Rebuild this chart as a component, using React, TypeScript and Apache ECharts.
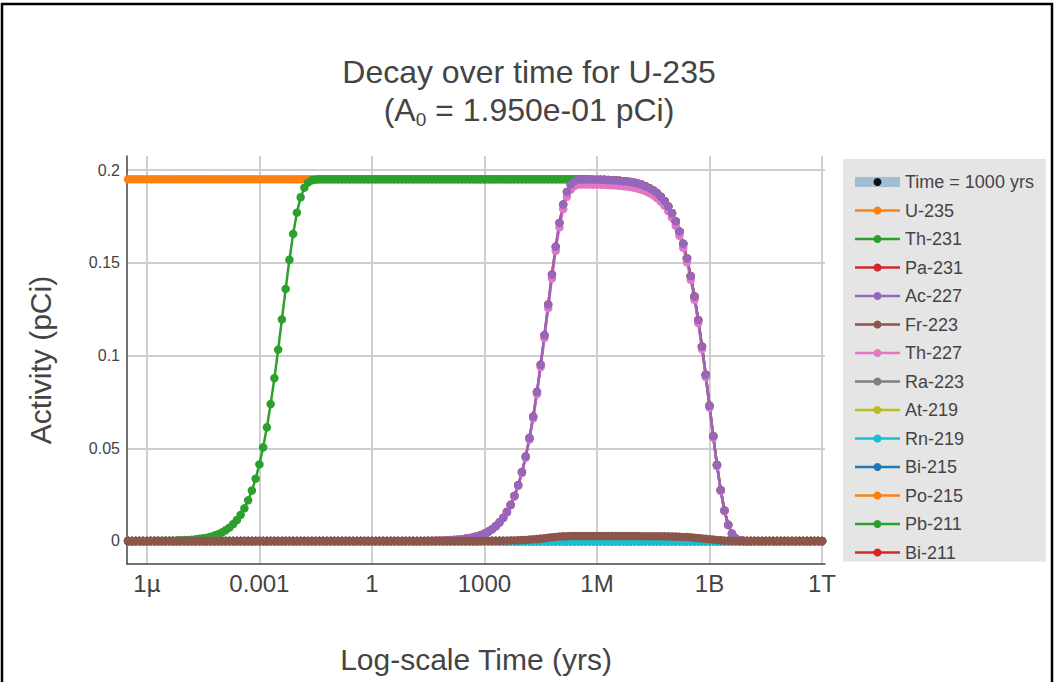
import { useEffect, useRef } from "react";
import * as echarts from "echarts";

// log10(time in years) of every computed point
const logTimeExps = [
  -6.5, -6.4, -6.3, -6.2, -6.1, -6, -5.9, -5.8, -5.7, -5.6,
  -5.5, -5.4, -5.3, -5.2, -5.1, -5, -4.9, -4.8, -4.7, -4.6,
  -4.5, -4.4, -4.3, -4.2, -4.1, -4, -3.9, -3.8, -3.7, -3.6,
  -3.5, -3.4, -3.3, -3.2, -3.1, -3, -2.9, -2.8, -2.7, -2.6,
  -2.5, -2.4, -2.3, -2.2, -2.1, -2, -1.9, -1.8, -1.7, -1.6,
  -1.5, -1.4, -1.3, -1.2, -1.1, -1, -0.9, -0.8, -0.7, -0.6,
  -0.5, -0.4, -0.3, -0.2, -0.1, 0, 0.1, 0.2, 0.3, 0.4,
  0.5, 0.6, 0.7, 0.8, 0.9, 1, 1.1, 1.2, 1.3, 1.4,
  1.5, 1.6, 1.7, 1.8, 1.9, 2, 2.1, 2.2, 2.3, 2.4,
  2.5, 2.6, 2.7, 2.8, 2.9, 3, 3.1, 3.2, 3.3, 3.4,
  3.5, 3.6, 3.7, 3.8, 3.9, 4, 4.1, 4.2, 4.3, 4.4,
  4.5, 4.6, 4.7, 4.8, 4.9, 5, 5.1, 5.2, 5.3, 5.4,
  5.5, 5.6, 5.7, 5.8, 5.9, 6, 6.1, 6.2, 6.3, 6.4,
  6.5, 6.6, 6.7, 6.8, 6.9, 7, 7.1, 7.2, 7.3, 7.4,
  7.5, 7.6, 7.7, 7.8, 7.9, 8, 8.1, 8.2, 8.3, 8.4,
  8.5, 8.6, 8.7, 8.8, 8.9, 9, 9.1, 9.2, 9.3, 9.4,
  9.5, 9.6, 9.7, 9.8, 9.9, 10, 10.1, 10.2, 10.3, 10.4,
  10.5, 10.6, 10.7, 10.8, 10.9, 11, 11.1, 11.2, 11.3, 11.4,
  11.5, 11.6, 11.7, 11.8, 11.9, 12,
];

const xTickExps = [-6, -3, 0, 3, 6, 9, 12];
const xTickLabels = ["1µ", "0.001", "1", "1000", "1M", "1B", "1T"];
const yTickValues = [0, 0.05, 0.1, 0.15, 0.2];
const yTickLabels = ["0", "0.05", "0.1", "0.15", "0.2"];

const u235 = [
  0.195, 0.195, 0.195, 0.195, 0.195, 0.195, 0.195, 0.195, 0.195, 0.195,
  0.195, 0.195, 0.195, 0.195, 0.195, 0.195, 0.195, 0.195, 0.195, 0.195,
  0.195, 0.195, 0.195, 0.195, 0.195, 0.195, 0.195, 0.195, 0.195, 0.195,
  0.195, 0.195, 0.195, 0.195, 0.195, 0.195, 0.195, 0.195, 0.195, 0.195,
  0.195, 0.195, 0.195, 0.195, 0.195, 0.195, 0.195, 0.195, 0.195, 0.195,
  0.195, 0.195, 0.195, 0.195, 0.195, 0.195, 0.195, 0.195, 0.195, 0.195,
  0.195, 0.195, 0.195, 0.195, 0.195, 0.195, 0.195, 0.195, 0.195, 0.195,
  0.195, 0.195, 0.195, 0.195, 0.195, 0.195, 0.195, 0.195, 0.195, 0.195,
  0.195, 0.195, 0.195, 0.195, 0.195, 0.195, 0.195, 0.195, 0.195, 0.195,
  0.195, 0.195, 0.195, 0.195, 0.195, 0.195, 0.195, 0.195, 0.195, 0.195,
  0.195, 0.195, 0.195, 0.195, 0.195, 0.195, 0.195, 0.195, 0.195, 0.195,
  0.195, 0.195, 0.195, 0.195, 0.195, 0.195, 0.195, 0.195, 0.195, 0.195,
  0.195, 0.1949, 0.1949, 0.1949, 0.1948, 0.1948, 0.1948, 0.1947, 0.1946, 0.1945,
  0.1944, 0.1942, 0.194, 0.1938, 0.1935, 0.1931, 0.1926, 0.192, 0.1912, 0.1902,
  0.189, 0.1875, 0.1856, 0.1833, 0.1803, 0.1767, 0.1723, 0.1668, 0.1602, 0.1523,
  0.1428, 0.1318, 0.1191, 0.1048, 0.0896, 0.0729, 0.0565, 0.041, 0.0274, 0.0164,
  0.0087, 0.0039, 0.0014, 0.0004, 0.0001, 0, 0, 0, 0, 0,
  0, 0, 0, 0, 0, 0, 0, 0, 0, 0,
  0, 0, 0, 0, 0, 0,
];

const th231 = [
  0, 0, 0, 0, 0, 0, 0.0001, 0.0001, 0.0001, 0.0001,
  0.0001, 0.0002, 0.0002, 0.0003, 0.0004, 0.0005, 0.0006, 0.0007, 0.0009, 0.0012,
  0.0015, 0.0018, 0.0023, 0.0029, 0.0037, 0.0046, 0.0058, 0.0072, 0.0091, 0.0113,
  0.0141, 0.0176, 0.0219, 0.0272, 0.0336, 0.0413, 0.0505, 0.0613, 0.0738, 0.0878,
  0.1032, 0.1195, 0.1359, 0.1516, 0.1656, 0.177, 0.1853, 0.1905, 0.1933, 0.1945,
  0.1949, 0.195, 0.195, 0.195, 0.195, 0.195, 0.195, 0.195, 0.195, 0.195,
  0.195, 0.195, 0.195, 0.195, 0.195, 0.195, 0.195, 0.195, 0.195, 0.195,
  0.195, 0.195, 0.195, 0.195, 0.195, 0.195, 0.195, 0.195, 0.195, 0.195,
  0.195, 0.195, 0.195, 0.195, 0.195, 0.195, 0.195, 0.195, 0.195, 0.195,
  0.195, 0.195, 0.195, 0.195, 0.195, 0.195, 0.195, 0.195, 0.195, 0.195,
  0.195, 0.195, 0.195, 0.195, 0.195, 0.195, 0.195, 0.195, 0.195, 0.195,
  0.195, 0.195, 0.195, 0.195, 0.195, 0.195, 0.195, 0.195, 0.195, 0.195,
  0.195, 0.1949, 0.1949, 0.1949, 0.1948, 0.1948, 0.1948, 0.1947, 0.1946, 0.1945,
  0.1944, 0.1942, 0.194, 0.1938, 0.1935, 0.1931, 0.1926, 0.192, 0.1912, 0.1902,
  0.189, 0.1875, 0.1856, 0.1833, 0.1803, 0.1767, 0.1723, 0.1668, 0.1602, 0.1523,
  0.1428, 0.1318, 0.1191, 0.1048, 0.0896, 0.0729, 0.0565, 0.041, 0.0274, 0.0164,
  0.0087, 0.0039, 0.0014, 0.0004, 0.0001, 0, 0, 0, 0, 0,
  0, 0, 0, 0, 0, 0, 0, 0, 0, 0,
  0, 0, 0, 0, 0, 0,
];

const pa231 = [
  0, 0, 0, 0, 0, 0, 0, 0, 0, 0,
  0, 0, 0, 0, 0, 0, 0, 0, 0, 0,
  0, 0, 0, 0, 0, 0, 0, 0, 0, 0,
  0, 0, 0, 0, 0, 0, 0, 0, 0, 0,
  0, 0, 0, 0, 0, 0, 0, 0, 0, 0,
  0, 0, 0, 0, 0, 0, 0, 0, 0, 0,
  0, 0, 0, 0, 0, 0, 0, 0, 0, 0,
  0, 0, 0, 0, 0, 0, 0, 0, 0, 0,
  0.0001, 0.0002, 0.0002, 0.0003, 0.0003, 0.0004, 0.0005, 0.0007, 0.0008, 0.001,
  0.0013, 0.0016, 0.0021, 0.0026, 0.0033, 0.0041, 0.0051, 0.0064, 0.0081, 0.0101,
  0.0126, 0.0158, 0.0196, 0.0244, 0.0302, 0.0372, 0.0456, 0.0556, 0.0671, 0.0804,
  0.0951, 0.111, 0.1275, 0.1437, 0.1587, 0.1715, 0.1814, 0.1882, 0.1921, 0.194,
  0.1948, 0.1949, 0.1949, 0.1949, 0.1948, 0.1948, 0.1948, 0.1947, 0.1946, 0.1945,
  0.1944, 0.1942, 0.194, 0.1938, 0.1935, 0.1931, 0.1926, 0.192, 0.1912, 0.1902,
  0.189, 0.1875, 0.1856, 0.1833, 0.1803, 0.1767, 0.1723, 0.1668, 0.1602, 0.1523,
  0.1428, 0.1318, 0.1191, 0.1048, 0.0896, 0.0729, 0.0565, 0.041, 0.0274, 0.0164,
  0.0087, 0.0039, 0.0014, 0.0004, 0.0001, 0, 0, 0, 0, 0,
  0, 0, 0, 0, 0, 0, 0, 0, 0, 0,
  0, 0, 0, 0, 0, 0,
];

const ac227 = [
  0, 0, 0, 0, 0, 0, 0, 0, 0, 0,
  0, 0, 0, 0, 0, 0, 0, 0, 0, 0,
  0, 0, 0, 0, 0, 0, 0, 0, 0, 0,
  0, 0, 0, 0, 0, 0, 0, 0, 0, 0,
  0, 0, 0, 0, 0, 0, 0, 0, 0, 0,
  0, 0, 0, 0, 0, 0, 0, 0, 0, 0,
  0, 0, 0, 0, 0, 0, 0, 0, 0, 0,
  0, 0, 0, 0, 0, 0, 0, 0, 0, 0,
  0, 0.0001, 0.0001, 0.0001, 0.0002, 0.0003, 0.0004, 0.0005, 0.0007, 0.0009,
  0.0012, 0.0015, 0.0019, 0.0025, 0.0031, 0.004, 0.005, 0.0063, 0.0079, 0.01,
  0.0125, 0.0156, 0.0195, 0.0243, 0.0301, 0.0371, 0.0455, 0.0555, 0.067, 0.0803,
  0.095, 0.1109, 0.1274, 0.1436, 0.1586, 0.1715, 0.1814, 0.1882, 0.1921, 0.194,
  0.1948, 0.1949, 0.1949, 0.1949, 0.1948, 0.1948, 0.1948, 0.1947, 0.1946, 0.1945,
  0.1944, 0.1942, 0.194, 0.1938, 0.1935, 0.1931, 0.1926, 0.192, 0.1912, 0.1902,
  0.189, 0.1875, 0.1856, 0.1833, 0.1803, 0.1767, 0.1723, 0.1668, 0.1602, 0.1523,
  0.1428, 0.1318, 0.1191, 0.1048, 0.0896, 0.0729, 0.0565, 0.041, 0.0274, 0.0164,
  0.0087, 0.0039, 0.0014, 0.0004, 0.0001, 0, 0, 0, 0, 0,
  0, 0, 0, 0, 0, 0, 0, 0, 0, 0,
  0, 0, 0, 0, 0, 0,
];

const th227 = [
  0, 0, 0, 0, 0, 0, 0, 0, 0, 0,
  0, 0, 0, 0, 0, 0, 0, 0, 0, 0,
  0, 0, 0, 0, 0, 0, 0, 0, 0, 0,
  0, 0, 0, 0, 0, 0, 0, 0, 0, 0,
  0, 0, 0, 0, 0, 0, 0, 0, 0, 0,
  0, 0, 0, 0, 0, 0, 0, 0, 0, 0,
  0, 0, 0, 0, 0, 0, 0, 0, 0, 0,
  0, 0, 0, 0, 0, 0, 0, 0, 0, 0,
  0, 0.0001, 0.0001, 0.0001, 0.0002, 0.0003, 0.0004, 0.0005, 0.0007, 0.0009,
  0.0012, 0.0015, 0.0019, 0.0025, 0.0031, 0.0039, 0.0049, 0.0062, 0.0078, 0.0099,
  0.0123, 0.0154, 0.0192, 0.024, 0.0297, 0.0366, 0.0449, 0.0547, 0.0661, 0.0792,
  0.0937, 0.1094, 0.1256, 0.1416, 0.1564, 0.1691, 0.1789, 0.1856, 0.1894, 0.1913,
  0.1921, 0.1922, 0.1922, 0.1922, 0.1921, 0.1921, 0.1921, 0.192, 0.1919, 0.1918,
  0.1917, 0.1915, 0.1913, 0.1911, 0.1908, 0.1904, 0.1899, 0.1893, 0.1886, 0.1876,
  0.1864, 0.1849, 0.183, 0.1808, 0.1778, 0.1743, 0.1699, 0.1645, 0.158, 0.1502,
  0.1408, 0.13, 0.1175, 0.1034, 0.0884, 0.0719, 0.0557, 0.0404, 0.027, 0.0162,
  0.0086, 0.0038, 0.0014, 0.0004, 0.0001, 0, 0, 0, 0, 0,
  0, 0, 0, 0, 0, 0, 0, 0, 0, 0,
  0, 0, 0, 0, 0, 0,
];

const fr223 = [
  0, 0, 0, 0, 0, 0, 0, 0, 0, 0,
  0, 0, 0, 0, 0, 0, 0, 0, 0, 0,
  0, 0, 0, 0, 0, 0, 0, 0, 0, 0,
  0, 0, 0, 0, 0, 0, 0, 0, 0, 0,
  0, 0, 0, 0, 0, 0, 0, 0, 0, 0,
  0, 0, 0, 0, 0, 0, 0, 0, 0, 0,
  0, 0, 0, 0, 0, 0, 0, 0, 0, 0,
  0, 0, 0, 0, 0, 0, 0, 0, 0, 0,
  0, 0, 0, 0, 0, 0, 0, 0, 0, 0,
  0, 0, 0, 0, 0, 0.0001, 0.0001, 0.0001, 0.0001, 0.0001,
  0.0002, 0.0002, 0.0003, 0.0003, 0.0004, 0.0005, 0.0006, 0.0008, 0.0009, 0.0011,
  0.0013, 0.0015, 0.0018, 0.002, 0.0022, 0.0024, 0.0025, 0.0026, 0.0027, 0.0027,
  0.0027, 0.0027, 0.0027, 0.0027, 0.0027, 0.0027, 0.0027, 0.0027, 0.0027, 0.0027,
  0.0027, 0.0027, 0.0027, 0.0027, 0.0027, 0.0027, 0.0027, 0.0026, 0.0026, 0.0026,
  0.0026, 0.0026, 0.0026, 0.0025, 0.0025, 0.0024, 0.0024, 0.0023, 0.0022, 0.0021,
  0.002, 0.0018, 0.0016, 0.0014, 0.0012, 0.001, 0.0008, 0.0006, 0.0004, 0.0002,
  0.0001, 0.0001, 0, 0, 0, 0, 0, 0, 0, 0,
  0, 0, 0, 0, 0, 0, 0, 0, 0, 0,
  0, 0, 0, 0, 0, 0,
];

// the later daughters sit on the zero line, under Fr-223, for the whole run
const daughtersAtZero = [
  0, 0, 0, 0, 0, 0, 0, 0, 0, 0,
  0, 0, 0, 0, 0, 0, 0, 0, 0, 0,
  0, 0, 0, 0, 0, 0, 0, 0, 0, 0,
  0, 0, 0, 0, 0, 0, 0, 0, 0, 0,
  0, 0, 0, 0, 0, 0, 0, 0, 0, 0,
  0, 0, 0, 0, 0, 0, 0, 0, 0, 0,
  0, 0, 0, 0, 0, 0, 0, 0, 0, 0,
  0, 0, 0, 0, 0, 0, 0, 0, 0, 0,
  0, 0, 0, 0, 0, 0, 0, 0, 0, 0,
  0, 0, 0, 0, 0, 0, 0, 0, 0, 0,
  0, 0, 0, 0, 0, 0, 0, 0, 0, 0,
  0, 0, 0, 0, 0, 0, 0, 0, 0, 0,
  0, 0, 0, 0, 0, 0, 0, 0, 0, 0,
  0, 0, 0, 0, 0, 0, 0, 0, 0, 0,
  0, 0, 0, 0, 0, 0, 0, 0, 0, 0,
  0, 0, 0, 0, 0, 0, 0, 0, 0, 0,
  0, 0, 0, 0, 0, 0, 0, 0, 0, 0,
  0, 0, 0, 0, 0, 0, 0, 0, 0, 0,
  0, 0, 0, 0, 0, 0,
];

// marker of the selected time (hidden under Th-231 at the plateau)
const timeMarkerExp = [3];
const timeMarkerActivity = [0.195];

const TIME_NAME = "Time = 1000 yrs";
const legendOrder = [
  TIME_NAME, "U-235", "Th-231", "Pa-231", "Ac-227", "Fr-223", "Th-227",
  "Ra-223", "At-219", "Rn-219", "Bi-215", "Po-215", "Pb-211", "Bi-211",
];

const FONT = "'Liberation Sans', Arial, Helvetica, sans-serif";
const TEXT = "#444";
const TIME_BAND = "rgba(31,119,180,0.35)";

export default function App() {
  const ref = useRef<HTMLDivElement>(null);

  useEffect(() => {
    if (!ref.current) return;
    const chart = echarts.init(ref.current, undefined, { renderer: "svg" });

    const mkLine = (name: string, vals: number[], color: string) => ({
      type: "line",
      name,
      data: logTimeExps.map((e, i) => [e, vals[i]]),
      symbol: "circle",
      symbolSize: 8.5,
      showSymbol: true,
      showAllSymbol: true,
      lineStyle: { width: 2.5, color },
      itemStyle: { color, borderWidth: 0 },
      emphasis: { disabled: true },
      silent: true,
      clip: true,
    });

    // drawing order (later on top)
    const series: any[] = [
      {
        type: "line",
        name: TIME_NAME,
        data: timeMarkerExp.map((e, i) => [e, timeMarkerActivity[i]]),
        symbol: "circle",
        symbolSize: 8,
        lineStyle: { width: 10, color: TIME_BAND },
        itemStyle: { color: "#111" },
        emphasis: { disabled: true },
        silent: true,
      },
      mkLine("Ra-223", daughtersAtZero, "#7f7f7f"),
      mkLine("At-219", daughtersAtZero, "#bcbd22"),
      mkLine("Po-215", daughtersAtZero, "#ff7f0e"),
      mkLine("Pb-211", daughtersAtZero, "#2ca02c"),
      mkLine("Bi-211", daughtersAtZero, "#d62728"),
      mkLine("Bi-215", daughtersAtZero, "#1f77b4"),
      mkLine("Rn-219", daughtersAtZero, "#17becf"),
      mkLine("U-235", u235, "#ff7f0e"),
      mkLine("Th-231", th231, "#2ca02c"),
      mkLine("Pa-231", pa231, "#d62728"),
      mkLine("Th-227", th227, "#e377c2"),
      mkLine("Ac-227", ac227, "#9467bd"),
      mkLine("Fr-223", fr223, "#8c564b"),
    ];

    const option: any = {
      animation: false,
      textStyle: { fontFamily: FONT },
      title: {
        left: "center",
        top: 48,
        text: "{a|Decay over time for U-235}\n{a|(A}{s|0}{a| = 1.950e-01 pCi)}",
        textStyle: {
          fontFamily: FONT,
          fontWeight: "normal",
          rich: {
            a: { fontSize: 32, lineHeight: 38, color: TEXT, fontFamily: FONT, fontWeight: "normal" },
            s: {
              fontSize: 19,
              lineHeight: 20,
              verticalAlign: "bottom",
              color: TEXT,
              fontFamily: FONT,
              fontWeight: "normal",
            },
          },
        },
      },
      grid: { left: 127, right: 233, top: 156, bottom: 118 },
      xAxis: {
        type: "value",
        min: -6.53,
        max: 12.08,
        name: "Log-scale Time (yrs)",
        nameLocation: "middle",
        nameGap: 80,
        nameTextStyle: { fontSize: 30, color: TEXT, fontFamily: FONT },
        axisLine: { show: true, onZero: false, lineStyle: { color: "#444", width: 1.5 } },
        axisTick: { show: false, customValues: xTickExps },
        axisLabel: {
          customValues: xTickExps,
          formatter: (v: number) => {
            const k = xTickExps.findIndex((t) => Math.abs(t - v) < 1e-6);
            return k >= 0 ? xTickLabels[k] : "";
          },
          fontSize: 24,
          color: TEXT,
          margin: 7,
          fontFamily: FONT,
        },
        splitLine: { show: true, lineStyle: { color: "#cfcfcf", width: 2 } },
      },
      yAxis: {
        type: "value",
        min: -0.0124,
        max: 0.20755,
        name: "Activity (pCi)",
        nameLocation: "middle",
        nameGap: 72,
        nameTextStyle: { fontSize: 30, color: TEXT, fontFamily: FONT },
        axisLine: { show: true, onZero: false, lineStyle: { color: "#444", width: 1.5 } },
        axisTick: { show: false, customValues: yTickValues },
        axisLabel: {
          customValues: yTickValues,
          formatter: (v: number) => {
            const k = yTickValues.findIndex((t) => Math.abs(t - v) < 1e-9);
            return k >= 0 ? yTickLabels[k] : "";
          },
          fontSize: 16,
          color: TEXT,
          margin: 7,
          fontFamily: FONT,
        },
        splitLine: { show: true, lineStyle: { color: "#cfcfcf", width: 2 } },
      },
      legend: {
        data: legendOrder.map((name) =>
          name === TIME_NAME
            ? {
                name,
                lineStyle: { width: 10, color: TIME_BAND },
                itemStyle: { color: "#111" },
              }
            : name
        ),
        orient: "vertical",
        left: 843,
        top: 159,
        itemWidth: 45,
        itemHeight: 10,
        itemGap: 10.5,
        padding: [14, 12, 0, 7],
        backgroundColor: "#e5e5e5",
        selectedMode: false,
        lineStyle: { width: 2.5 },
        textStyle: { fontSize: 18, color: TEXT, lineHeight: 18, fontFamily: FONT },
      },
      graphic: [
        {
          type: "rect",
          silent: true,
          z: 100,
          shape: { x: 2, y: 4, width: 1050, height: 720 },
          style: { fill: "none", stroke: "#000", lineWidth: 2.5 },
        },
      ],
      series,
    };

    chart.setOption(option);
    return () => chart.dispose();
  }, []);

  return (
    <div
      ref={ref}
      style={{ position: "absolute", left: 0, top: 0, width: 1058, height: 682, background: "#fff" }}
    />
  );
}
